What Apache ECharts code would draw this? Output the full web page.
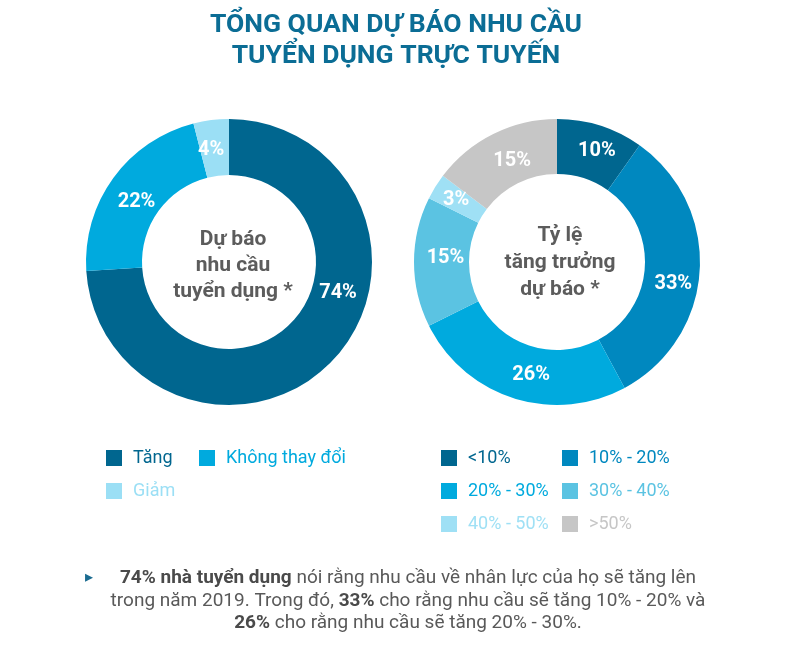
<!DOCTYPE html>
<html>
<head>
<meta charset="utf-8">
<script src="https://cdn.jsdelivr.net/npm/echarts@6/dist/echarts.min.js"></script>
<style>
html,body{margin:0;padding:0;background:#fff;}
#chart{width:785px;height:655px;}
</style>
</head>
<body>
<div id="chart"></div>
<script>
const demandCats = ['Tăng', 'Không thay đổi', 'Giảm'];
const demandVals = [74, 22, 4];
const demandColors = ['#00668f', '#00aade', '#9bdff5'];

const growthCats = ['<10%', '10% - 20%', '20% - 30%', '30% - 40%', '40% - 50%', '>50%'];
const growthVals = [10, 33, 26, 15, 3, 15];
const growthColors = ['#00668f', '#0088bf', '#00aade', '#5bc3e2', '#9fe0f5', '#c6c6c6'];

const titleText = 'TỔNG QUAN DỰ BÁO NHU CẦU\nTUYỂN DỤNG TRỰC TUYẾN';
const leftCenterText = 'Dự báo\nnhu cầu\ntuyển dụng *';
const rightCenterText = 'Tỷ lệ\ntăng trưởng\ndự báo *';
const noteLines = [
  '{b|74% nhà tuyển dụng} nói rằng nhu cầu về nhân lực của họ sẽ tăng lên',
  'trong năm 2019. Trong đó, {b|33%} cho rằng nhu cầu sẽ tăng 10% - 20% và',
  '{b|26%} cho rằng nhu cầu sẽ tăng 20% - 30%.'
];

// label nudges (styling only)
const demandLabelShift = [[23, -50], [3, 9], [-3, 5]];
const growthLabelShift = [[4, 2], [-2, 15], [10, 0], [7, -4], [0, 0], [8, 5]];

const FONT = 'Roboto, "Noto Sans", sans-serif';

const chart = echarts.init(document.getElementById('chart'), null, {renderer: 'canvas'});

function legendItems(names, colors, idx) {
  return idx.map(i => ({name: names[i], icon: 'rect', itemStyle: {color: colors[i]}, textStyle: {color: colors[i]}}));
}
function mkLegend(names, colors, idx, left, top) {
  return {
    orient: 'vertical', left: left, top: top, padding: 0,
    itemWidth: 16, itemHeight: 16, itemGap: 15,
    selectedMode: false,
    textStyle: {fontFamily: FONT, fontSize: 18, padding: [0, 0, 0, 6]},
    data: legendItems(names, colors, idx)
  };
}

const labelStyle = {
  show: true, position: 'inside', formatter: '{c}%',
  color: '#fff', fontFamily: FONT, fontWeight: 'bold', fontSize: 20
};

chart.setOption({
  animation: false,
  title: [
    {text: titleText, left: 391, top: 5, textAlign: 'center',
     textStyle: {fontFamily: FONT, fontWeight: 'bold', fontSize: 26.5, color: '#0b6d95', lineHeight: 31}},
    {text: leftCenterText, left: 228, top: 222, textAlign: 'center',
     textStyle: {fontFamily: FONT, fontWeight: 'bold', fontSize: 21, color: '#5c5c5c', lineHeight: 26}},
    {text: rightCenterText, left: 555, top: 217, textAlign: 'center',
     textStyle: {fontFamily: FONT, fontWeight: 'bold', fontSize: 21, color: '#5c5c5c', lineHeight: 27}}
  ],
  legend: [
    mkLegend(demandCats, demandColors, [0, 2], 106, 449),
    mkLegend(demandCats, demandColors, [1], 199, 449),
    mkLegend(growthCats, growthColors, [0, 2, 4], 441, 449),
    mkLegend(growthCats, growthColors, [1, 3, 5], 562, 449)
  ],
  series: [
    {
      type: 'pie', center: [229, 262], radius: [87, 143], startAngle: 90, clockwise: true,
      avoidLabelOverlap: false, silent: true,
      label: labelStyle, labelLine: {show: false},
      labelLayout: function (p) { const s = demandLabelShift[p.dataIndex]; return {dx: s[0], dy: s[1]}; },
      data: demandCats.map((n, i) => ({name: n, value: demandVals[i], itemStyle: {color: demandColors[i]}}))
    },
    {
      type: 'pie', center: [557, 262], radius: [88, 143], startAngle: 90, clockwise: true,
      avoidLabelOverlap: false, silent: true,
      label: labelStyle, labelLine: {show: false},
      labelLayout: function (p) { const s = growthLabelShift[p.dataIndex]; return {dx: s[0], dy: s[1]}; },
      data: growthCats.map((n, i) => ({name: n, value: growthVals[i], itemStyle: {color: growthColors[i]}}))
    }
  ],
  graphic: [
    {type: 'text', left: 85, top: 570,
     style: {text: '▸', fill: '#1a6b90', font: '16px ' + FONT}}
  ].concat(noteLines.map((t, i) => ({
    type: 'text', x: 408, y: 569 + i * 22.5,
    style: {
      text: t, align: 'center', fill: '#595959', font: '19px ' + FONT,
      rich: {b: {fontWeight: 'bold', fontFamily: FONT, fontSize: 19, fill: '#4a4a4a'}}
    }
  })))
});
</script>
</body>
</html>
